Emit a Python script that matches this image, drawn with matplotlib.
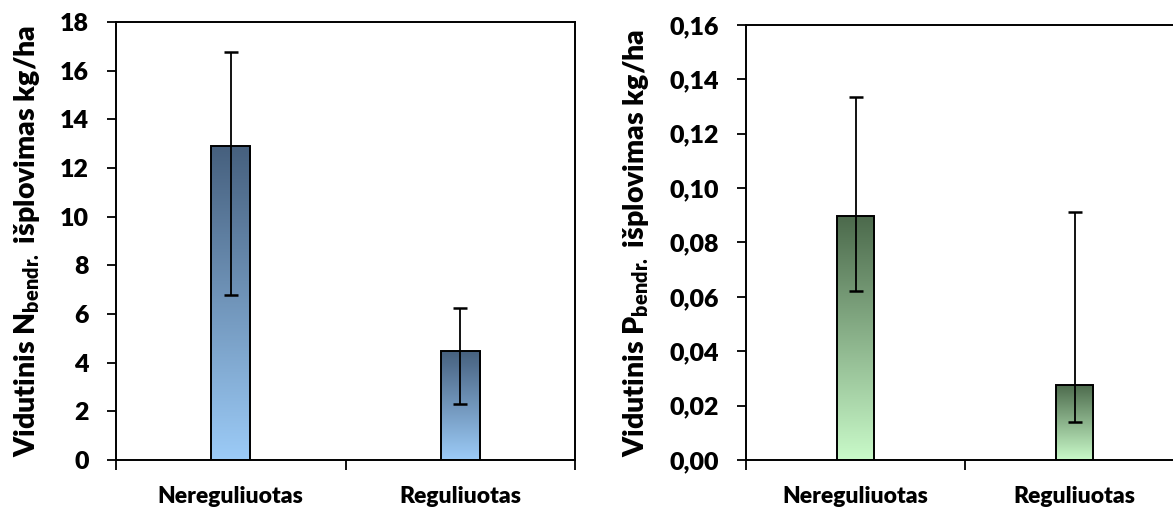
import numpy as np
import matplotlib
matplotlib.use('Agg')
import matplotlib.pyplot as plt
from matplotlib.colors import LinearSegmentedColormap
from matplotlib.ticker import FuncFormatter

plt.rcParams['font.family'] = ['Lato', 'DejaVu Sans']
plt.rcParams['font.weight'] = 'heavy'
plt.rcParams['mathtext.fontset'] = 'custom'
plt.rcParams['mathtext.rm'] = 'Lato:heavy'
plt.rcParams['mathtext.bf'] = 'Lato:heavy'

# data
categories = ['Nereguliuotas', 'Reguliuotas']
n_values = [12.9, 4.5]
n_err_low = [6.1, 2.2]
n_err_high = [3.85, 1.75]
p_values = [0.0897, 0.0276]
p_err_low = [0.0274, 0.0137]
p_err_high = [0.0439, 0.0637]

n_ticks = [0, 2, 4, 6, 8, 10, 12, 14, 16, 18]
p_ticks = [0.0, 0.02, 0.04, 0.06, 0.08, 0.10, 0.12, 0.14, 0.16]

blue_cmap = LinearSegmentedColormap.from_list('b', ['#9ccbf7', '#46607e'])
green_cmap = LinearSegmentedColormap.from_list('g', ['#c9fac9', '#4c6a4c'])

fig = plt.figure(figsize=(11.73, 5.08), dpi=100)
ax1 = fig.add_axes([116 / 1173, 48 / 508, 459 / 1173, 438 / 508])
ax2 = fig.add_axes([746 / 1173, 48 / 508, 438 / 1173, 435 / 508])


def draw(ax, vals, lo, hi, cmap, ticks, fmt, ylabel):
    x = np.arange(len(vals))
    bars = ax.bar(x, vals, width=0.172, color='none', edgecolor='black',
                  linewidth=1.4, zorder=3)
    grad = np.linspace(0, 1, 256).reshape(-1, 1)
    for b in bars:
        x0, y0 = b.get_x(), b.get_y()
        im = ax.imshow(grad, cmap=cmap, origin='lower', aspect='auto',
                       extent=[x0, x0 + b.get_width(), y0, y0 + b.get_height()],
                       zorder=2)
        im.set_clip_path(b)
    ax.errorbar(x, vals, yerr=[lo, hi], fmt='none', ecolor='black',
                elinewidth=1.3, capsize=5, capthick=1.8, zorder=4)
    ax.set_xlim(-0.5, len(vals) - 0.5)
    ax.set_ylim(ticks[0], ticks[-1])
    ax.set_yticks(ticks)
    ax.yaxis.set_major_formatter(FuncFormatter(fmt))
    ax.set_xticks([-0.5, 0.5, 1.5])
    ax.set_xticklabels([])
    ax.set_xticks(x, minor=True)
    ax.set_xticklabels(categories, minor=True)
    ax.tick_params(axis='x', which='major', direction='out', length=7, width=1.3)
    ax.tick_params(axis='x', which='minor', length=0, pad=19, labelsize=16.5)
    ax.tick_params(axis='y', direction='out', length=6.5, width=1.3, labelsize=18, pad=13)
    for s in ax.spines.values():
        s.set_linewidth(1.4)
    ax.set_ylabel(ylabel, fontsize=20.5, fontweight='heavy', labelpad=13)


draw(ax1, n_values, n_err_low, n_err_high, blue_cmap, n_ticks,
     lambda v, p: f'{v:.0f}',
     r'Vidutinis N$_{\mathregular{bendr.}}$ išplovimas kg/ha')
draw(ax2, p_values, p_err_low, p_err_high, green_cmap, p_ticks,
     lambda v, p: f'{v:.2f}'.replace('.', ','),
     r'Vidutinis P$_{\mathregular{bendr.}}$ išplovimas kg/ha')

fig.savefig('out.png', dpi=100)
